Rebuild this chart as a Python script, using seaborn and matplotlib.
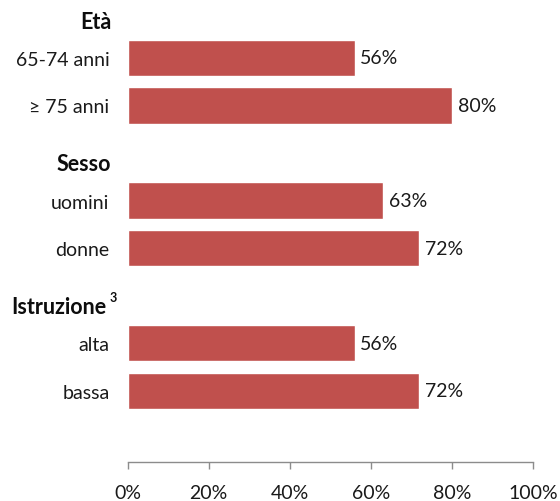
import numpy as np
import pandas as pd
import matplotlib
matplotlib.use('Agg')
import matplotlib.pyplot as plt
import matplotlib.transforms as mtransforms
import seaborn as sns

# data
groups = ['Età', 'Sesso', 'Istruzione']
labels = ['65-74 anni', '≥ 75 anni', 'uomini', 'donne', 'alta', 'bassa']
group_of = ['Età', 'Età', 'Sesso', 'Sesso', 'Istruzione', 'Istruzione']
values = [56, 80, 63, 72, 56, 72]
xticks = [0, 20, 40, 60, 80, 100]

sns.set_style('white')
plt.rcParams['font.family'] = ['Lato', 'DejaVu Sans']

# rows: two bars per group, one empty slot between groups
pos = []
p = 0
for i, g in enumerate(group_of):
    if i > 0 and g != group_of[i - 1]:
        p += 1
    pos.append(p)
    p += 1

df = pd.DataFrame({'label': labels, 'value': values, 'pos': pos})

fig = plt.figure(figsize=(5.6, 5.02), dpi=100)
ax = fig.add_axes([0.2277, 0.0777, 0.724, 0.9223])

sns.barplot(data=df, x='value', y='pos', orient='h', native_scale=True,
            color='#C0504D', saturation=1, width=0.76, ax=ax)

for v, y in zip(values, pos):
    ax.text(v + 1.4, y, f'{v}%', va='center', ha='left', fontsize=14, color='#1a1a1a')

ax.set_xlim(0, 100)
ax.set_ylim(8.5, -1.24)
ax.set_xticks(xticks)
ax.set_xticklabels([f'{t}%' for t in xticks], fontsize=14, color='#1a1a1a')
ax.set_yticks(pos)
ax.set_yticklabels(labels, fontsize=14, color='#1a1a1a')
ax.tick_params(axis='y', length=0, pad=13)
ax.tick_params(axis='x', length=5, width=1, color='#8c8c8c', pad=11, direction='out')
ax.xaxis.set_ticks_position('bottom')
ax.set_xlabel('')
ax.set_ylabel('')
for s in ['top', 'right', 'left']:
    ax.spines[s].set_visible(False)
ax.spines['bottom'].set_color('#8c8c8c')
ax.spines['bottom'].set_linewidth(1)

# group headers
trans = mtransforms.blended_transform_factory(fig.transFigure, ax.transData)
for g in groups:
    first = pos[group_of.index(g)]
    if g == 'Istruzione':
        ax.text(106 / 560, first - 0.77, g, transform=trans, ha='right', va='center',
                fontsize=15.5, fontweight='bold', color='#0d0d0d')
        ax.text(110 / 560, first - 0.98, '3', transform=trans, ha='left', va='center',
                fontsize=9, fontweight='bold', color='#0d0d0d')
    else:
        ax.text(111 / 560, first - 0.77, g, transform=trans, ha='right', va='center',
                fontsize=15.5, fontweight='bold', color='#0d0d0d')

fig.savefig('out.png', dpi=100)
